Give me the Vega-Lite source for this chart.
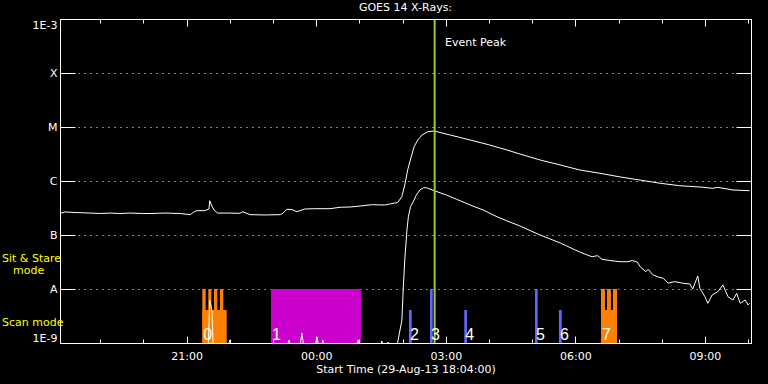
{
  "$schema": "https://vega.github.io/schema/vega-lite/v6.json",
  "width": 691,
  "height": 324,
  "autosize": {"type": "none"},
  "padding": {"left": 60, "top": 19, "right": 17, "bottom": 41},
  "background": "black",
  "config": {
    "view": {"stroke": "white"},
    "axis": {
      "domainColor": "white", "domainWidth": 1,
      "tickColor": "white", "tickWidth": 1,
      "labelColor": "white", "labelFont": "DejaVu Sans", "labelFontSize": 11,
      "titleColor": "white", "titleFont": "DejaVu Sans", "titleFontSize": 11, "titleFontWeight": "normal"
    }
  },
  "title": {"text": "GOES 14 X-Rays:", "color": "white", "font": "DejaVu Sans", "fontSize": 11, "fontWeight": "normal", "anchor": "middle", "offset": 5},
  "datasets": {
    "long": [
      {"t": "2013-08-29T18:04:00Z", "f": 2.52e-7},
      {"t": "2013-08-29T18:11:00Z", "f": 2.67e-7},
      {"t": "2013-08-29T18:25:00Z", "f": 2.61e-7},
      {"t": "2013-08-29T18:46:00Z", "f": 2.55e-7},
      {"t": "2013-08-29T19:00:00Z", "f": 2.50e-7},
      {"t": "2013-08-29T19:13:00Z", "f": 2.55e-7},
      {"t": "2013-08-29T19:27:00Z", "f": 2.50e-7},
      {"t": "2013-08-29T19:41:00Z", "f": 2.55e-7},
      {"t": "2013-08-29T19:59:00Z", "f": 2.50e-7},
      {"t": "2013-08-29T20:09:00Z", "f": 2.50e-7},
      {"t": "2013-08-29T20:30:00Z", "f": 2.55e-7},
      {"t": "2013-08-29T20:51:00Z", "f": 2.50e-7},
      {"t": "2013-08-29T21:05:00Z", "f": 2.38e-7},
      {"t": "2013-08-29T21:10:00Z", "f": 2.67e-7},
      {"t": "2013-08-29T21:14:00Z", "f": 2.82e-7},
      {"t": "2013-08-29T21:25:00Z", "f": 2.82e-7},
      {"t": "2013-08-29T21:31:00Z", "f": 3.03e-7},
      {"t": "2013-08-29T21:32:00Z", "f": 4.32e-7},
      {"t": "2013-08-29T21:35:00Z", "f": 3.44e-7},
      {"t": "2013-08-29T21:38:00Z", "f": 2.90e-7},
      {"t": "2013-08-29T21:43:00Z", "f": 2.55e-7},
      {"t": "2013-08-29T22:00:00Z", "f": 2.55e-7},
      {"t": "2013-08-29T22:14:00Z", "f": 2.52e-7},
      {"t": "2013-08-29T22:18:00Z", "f": 2.70e-7},
      {"t": "2013-08-29T22:28:00Z", "f": 2.38e-7},
      {"t": "2013-08-29T22:49:00Z", "f": 2.35e-7},
      {"t": "2013-08-29T23:10:00Z", "f": 2.38e-7},
      {"t": "2013-08-29T23:14:00Z", "f": 2.55e-7},
      {"t": "2013-08-29T23:19:00Z", "f": 2.99e-7},
      {"t": "2013-08-29T23:26:00Z", "f": 2.97e-7},
      {"t": "2013-08-29T23:33:00Z", "f": 2.70e-7},
      {"t": "2013-08-29T23:44:00Z", "f": 3.03e-7},
      {"t": "2013-08-29T23:58:00Z", "f": 3.07e-7},
      {"t": "2013-08-30T00:19:00Z", "f": 3.07e-7},
      {"t": "2013-08-30T00:33:00Z", "f": 3.26e-7},
      {"t": "2013-08-30T00:47:00Z", "f": 3.30e-7},
      {"t": "2013-08-30T01:01:00Z", "f": 3.44e-7},
      {"t": "2013-08-30T01:17:00Z", "f": 3.64e-7},
      {"t": "2013-08-30T01:35:00Z", "f": 3.59e-7},
      {"t": "2013-08-30T01:42:00Z", "f": 3.75e-7},
      {"t": "2013-08-30T01:49:00Z", "f": 3.91e-7},
      {"t": "2013-08-30T01:53:00Z", "f": 3.96e-7},
      {"t": "2013-08-30T01:59:00Z", "f": 5.16e-7},
      {"t": "2013-08-30T02:03:00Z", "f": 8.43e-7},
      {"t": "2013-08-30T02:07:00Z", "f": 1.60e-6},
      {"t": "2013-08-30T02:12:00Z", "f": 2.82e-6},
      {"t": "2013-08-30T02:16:00Z", "f": 4.32e-6},
      {"t": "2013-08-30T02:21:00Z", "f": 5.74e-6},
      {"t": "2013-08-30T02:27:00Z", "f": 7.11e-6},
      {"t": "2013-08-30T02:35:00Z", "f": 8.18e-6},
      {"t": "2013-08-30T02:44:00Z", "f": 8.43e-6},
      {"t": "2013-08-30T02:52:00Z", "f": 7.91e-6},
      {"t": "2013-08-30T03:06:00Z", "f": 7.11e-6},
      {"t": "2013-08-30T03:34:00Z", "f": 5.74e-6},
      {"t": "2013-08-30T04:01:00Z", "f": 4.64e-6},
      {"t": "2013-08-30T04:25:00Z", "f": 3.75e-6},
      {"t": "2013-08-30T04:43:00Z", "f": 3.16e-6},
      {"t": "2013-08-30T05:11:00Z", "f": 2.45e-6},
      {"t": "2013-08-30T05:39:00Z", "f": 1.98e-6},
      {"t": "2013-08-30T06:06:00Z", "f": 1.60e-6},
      {"t": "2013-08-30T06:34:00Z", "f": 1.39e-6},
      {"t": "2013-08-30T07:02:00Z", "f": 1.19e-6},
      {"t": "2013-08-30T07:30:00Z", "f": 1.04e-6},
      {"t": "2013-08-30T07:58:00Z", "f": 9.07e-7},
      {"t": "2013-08-30T08:25:00Z", "f": 8.18e-7},
      {"t": "2013-08-30T08:53:00Z", "f": 7.74e-7},
      {"t": "2013-08-30T09:11:00Z", "f": 7.32e-7},
      {"t": "2013-08-30T09:18:00Z", "f": 7.64e-7},
      {"t": "2013-08-30T09:39:00Z", "f": 6.81e-7},
      {"t": "2013-08-30T10:02:00Z", "f": 6.61e-7}
    ],
    "short": [
      {"t": "2013-08-29T18:04:00Z", "f": 8e-10},
      {"t": "2013-08-29T21:30:00Z", "f": 8e-10},
      {"t": "2013-08-29T21:32:00Z", "f": 6.26e-9},
      {"t": "2013-08-29T21:35:00Z", "f": 4.08e-9},
      {"t": "2013-08-29T21:37:00Z", "f": 8e-10},
      {"t": "2013-08-29T21:57:00Z", "f": 8e-10},
      {"t": "2013-08-29T22:00:00Z", "f": 1.14e-9},
      {"t": "2013-08-29T22:03:00Z", "f": 8e-10},
      {"t": "2013-08-29T23:19:00Z", "f": 8e-10},
      {"t": "2013-08-29T23:22:00Z", "f": 1.14e-9},
      {"t": "2013-08-29T23:25:00Z", "f": 8e-10},
      {"t": "2013-08-29T23:37:00Z", "f": 8e-10},
      {"t": "2013-08-29T23:40:00Z", "f": 1.53e-9},
      {"t": "2013-08-29T23:43:00Z", "f": 8e-10},
      {"t": "2013-08-29T23:58:00Z", "f": 8e-10},
      {"t": "2013-08-30T00:01:00Z", "f": 1.29e-9},
      {"t": "2013-08-30T00:04:00Z", "f": 8e-10},
      {"t": "2013-08-30T00:07:00Z", "f": 8e-10},
      {"t": "2013-08-30T00:09:00Z", "f": 1.14e-9},
      {"t": "2013-08-30T00:12:00Z", "f": 8e-10},
      {"t": "2013-08-30T00:55:00Z", "f": 8e-10},
      {"t": "2013-08-30T00:58:00Z", "f": 1.14e-9},
      {"t": "2013-08-30T01:01:00Z", "f": 8e-10},
      {"t": "2013-08-30T01:29:00Z", "f": 8e-10},
      {"t": "2013-08-30T01:31:00Z", "f": 1.09e-9},
      {"t": "2013-08-30T01:35:00Z", "f": 8e-10},
      {"t": "2013-08-30T01:40:00Z", "f": 1.04e-9},
      {"t": "2013-08-30T01:44:00Z", "f": 8e-10},
      {"t": "2013-08-30T01:51:00Z", "f": 8e-10},
      {"t": "2013-08-30T01:53:00Z", "f": 1.0e-9},
      {"t": "2013-08-30T01:59:00Z", "f": 2.67e-9},
      {"t": "2013-08-30T02:01:00Z", "f": 1.10e-8},
      {"t": "2013-08-30T02:03:00Z", "f": 3.44e-8},
      {"t": "2013-08-30T02:06:00Z", "f": 1.24e-7},
      {"t": "2013-08-30T02:08:00Z", "f": 2.18e-7},
      {"t": "2013-08-30T02:11:00Z", "f": 3.34e-7},
      {"t": "2013-08-30T02:16:00Z", "f": 4.45e-7},
      {"t": "2013-08-30T02:19:00Z", "f": 5.50e-7},
      {"t": "2013-08-30T02:24:00Z", "f": 6.81e-7},
      {"t": "2013-08-30T02:29:00Z", "f": 7.51e-7},
      {"t": "2013-08-30T02:33:00Z", "f": 7.51e-7},
      {"t": "2013-08-30T02:45:00Z", "f": 6.53e-7},
      {"t": "2013-08-30T03:01:00Z", "f": 5.50e-7},
      {"t": "2013-08-30T03:15:00Z", "f": 4.58e-7},
      {"t": "2013-08-30T03:34:00Z", "f": 3.59e-7},
      {"t": "2013-08-30T03:52:00Z", "f": 2.90e-7},
      {"t": "2013-08-30T04:11:00Z", "f": 2.18e-7},
      {"t": "2013-08-30T04:29:00Z", "f": 1.74e-7},
      {"t": "2013-08-30T04:43:00Z", "f": 1.47e-7},
      {"t": "2013-08-30T05:11:00Z", "f": 1.0e-7},
      {"t": "2013-08-30T05:39:00Z", "f": 7.11e-8},
      {"t": "2013-08-30T05:48:00Z", "f": 6.26e-8},
      {"t": "2013-08-30T06:06:00Z", "f": 4.84e-8},
      {"t": "2013-08-30T06:23:00Z", "f": 3.96e-8},
      {"t": "2013-08-30T06:31:00Z", "f": 4.14e-8},
      {"t": "2013-08-30T06:37:00Z", "f": 3.55e-8},
      {"t": "2013-08-30T06:48:00Z", "f": 3.37e-8},
      {"t": "2013-08-30T07:02:00Z", "f": 3.20e-8},
      {"t": "2013-08-30T07:13:00Z", "f": 3.20e-8},
      {"t": "2013-08-30T07:19:00Z", "f": 3.37e-8},
      {"t": "2013-08-30T07:26:00Z", "f": 3.16e-8},
      {"t": "2013-08-30T07:30:00Z", "f": 2.59e-8},
      {"t": "2013-08-30T07:38:00Z", "f": 2.09e-8},
      {"t": "2013-08-30T07:41:00Z", "f": 2.32e-8},
      {"t": "2013-08-30T07:48:00Z", "f": 1.82e-8},
      {"t": "2013-08-30T07:55:00Z", "f": 1.67e-8},
      {"t": "2013-08-30T08:02:00Z", "f": 1.58e-8},
      {"t": "2013-08-30T08:09:00Z", "f": 1.28e-8},
      {"t": "2013-08-30T08:18:00Z", "f": 1.37e-8},
      {"t": "2013-08-30T08:29:00Z", "f": 1.28e-8},
      {"t": "2013-08-30T08:39:00Z", "f": 1.24e-8},
      {"t": "2013-08-30T08:43:00Z", "f": 1.0e-8},
      {"t": "2013-08-30T08:50:00Z", "f": 1.74e-8},
      {"t": "2013-08-30T08:53:00Z", "f": 1.03e-8},
      {"t": "2013-08-30T09:00:00Z", "f": 7.20e-9},
      {"t": "2013-08-30T09:04:00Z", "f": 5.44e-9},
      {"t": "2013-08-30T09:10:00Z", "f": 7.74e-9},
      {"t": "2013-08-30T09:18:00Z", "f": 8.91e-9},
      {"t": "2013-08-30T09:25:00Z", "f": 1.19e-8},
      {"t": "2013-08-30T09:32:00Z", "f": 7.20e-9},
      {"t": "2013-08-30T09:39:00Z", "f": 6.26e-9},
      {"t": "2013-08-30T09:44:00Z", "f": 8.32e-9},
      {"t": "2013-08-30T09:49:00Z", "f": 5.44e-9},
      {"t": "2013-08-30T09:56:00Z", "f": 6.26e-9},
      {"t": "2013-08-30T10:00:00Z", "f": 5.06e-9},
      {"t": "2013-08-30T10:02:00Z", "f": 5.44e-9}
    ],
    "obs": [
      {"s": "2013-08-29T21:21:42Z", "e": "2013-08-29T21:55:36Z", "top": 4.08e-9, "base": 1e-9, "grp": "multi"},
      {"s": "2013-08-29T21:21:42Z", "e": "2013-08-29T21:26:24Z", "top": 1e-8, "base": 1e-9, "grp": "multi"},
      {"s": "2013-08-29T21:30:00Z", "e": "2013-08-29T21:34:12Z", "top": 1e-8, "base": 1e-9, "grp": "multi"},
      {"s": "2013-08-29T21:37:56Z", "e": "2013-08-29T21:42:32Z", "top": 1e-8, "base": 1e-9, "grp": "multi"},
      {"s": "2013-08-29T21:46:16Z", "e": "2013-08-29T21:50:52Z", "top": 1e-8, "base": 1e-9, "grp": "multi"},
      {"s": "2013-08-29T22:57:06Z", "e": "2013-08-30T01:02:12Z", "top": 1e-8, "base": 1e-9, "grp": "long"},
      {"s": "2013-08-30T02:08:48Z", "e": "2013-08-30T02:12:36Z", "top": 4.08e-9, "base": 1e-9, "grp": "single"},
      {"s": "2013-08-30T02:38:00Z", "e": "2013-08-30T02:41:45Z", "top": 1e-8, "base": 1e-9, "grp": "single"},
      {"s": "2013-08-30T03:25:40Z", "e": "2013-08-30T03:29:24Z", "top": 4.08e-9, "base": 1e-9, "grp": "single"},
      {"s": "2013-08-30T05:03:54Z", "e": "2013-08-30T05:07:36Z", "top": 1e-8, "base": 1e-9, "grp": "single"},
      {"s": "2013-08-30T05:37:12Z", "e": "2013-08-30T05:41:00Z", "top": 4.08e-9, "base": 1e-9, "grp": "single"},
      {"s": "2013-08-30T06:35:36Z", "e": "2013-08-30T06:57:48Z", "top": 4.08e-9, "base": 1e-9, "grp": "multi"},
      {"s": "2013-08-30T06:35:36Z", "e": "2013-08-30T06:41:06Z", "top": 1e-8, "base": 1e-9, "grp": "multi"},
      {"s": "2013-08-30T06:43:54Z", "e": "2013-08-30T06:49:24Z", "top": 1e-8, "base": 1e-9, "grp": "multi"},
      {"s": "2013-08-30T06:52:12Z", "e": "2013-08-30T06:57:48Z", "top": 1e-8, "base": 1e-9, "grp": "multi"}
    ],
    "nums": [
      {"t": "2013-08-29T21:21:42Z", "f": 1.14e-9, "n": "0"},
      {"t": "2013-08-29T22:57:06Z", "f": 1.14e-9, "n": "1"},
      {"t": "2013-08-30T02:08:48Z", "f": 1.14e-9, "n": "2"},
      {"t": "2013-08-30T02:38:00Z", "f": 1.14e-9, "n": "3"},
      {"t": "2013-08-30T03:25:40Z", "f": 1.14e-9, "n": "4"},
      {"t": "2013-08-30T05:03:54Z", "f": 1.14e-9, "n": "5"},
      {"t": "2013-08-30T05:37:12Z", "f": 1.14e-9, "n": "6"},
      {"t": "2013-08-30T06:35:36Z", "f": 1.14e-9, "n": "7"}
    ],
    "modes": [
      {"t": "2013-08-29T16:43:24Z", "f": 3.6e-8, "txt": "Sit & Stare"},
      {"t": "2013-08-29T16:58:42Z", "f": 2.2e-8, "txt": "mode"},
      {"t": "2013-08-29T16:43:24Z", "f": 2.34e-9, "txt": "Scan mode"}
    ],
    "peak": [
      {"t": "2013-08-30T02:44:30Z", "lt": "2013-08-30T02:58:48Z", "f": 3.6e-4, "txt": "Event Peak"}
    ]
  },
  "layer": [
    {
      "data": {"name": "obs"},
      "mark": {"type": "rect"},
      "encoding": {
        "x": {"field": "s", "type": "temporal", "scale": {"type": "utc", "domain": [1377799440000, 1377857040000]}, "axis": null},
        "x2": {"field": "e"},
        "y": {"field": "top", "type": "quantitative", "scale": {"type": "log", "domain": [1e-9, 1e-3], "nice": false}, "axis": null},
        "y2": {"field": "base"},
        "color": {"field": "grp", "type": "nominal", "scale": {"domain": ["multi", "long", "single"], "range": ["#ff8000", "#cc00cc", "#6464ff"]}, "legend": null}
      }
    },
    {
      "data": {"name": "long"},
      "mark": {"type": "line", "color": "white", "strokeWidth": 1, "clip": true},
      "encoding": {
        "x": {"field": "t", "type": "temporal", "scale": {"type": "utc"},
          "axis": {"orient": "bottom", "title": "Start Time (29-Aug-13 18:04:00)", "titlePadding": 2,
            "values": [1377802800000, 1377806400000, 1377810000000, 1377813600000, 1377817200000, 1377820800000, 1377824400000, 1377828000000, 1377831600000, 1377835200000, 1377838800000, 1377842400000, 1377846000000, 1377849600000, 1377853200000, 1377856800000],
            "format": "%H:%M",
            "labelExpr": "round(datum.value / 3600000) % 3 == 0 ? datum.label : ''",
            "tickSize": -7,
            "tickDash": {"condition": {"test": "round(datum.value / 3600000) % 3 == 0", "value": [7, 0]}, "value": [4, 20]},
            "labelPadding": 14, "labelOverlap": false, "grid": false, "zindex": 1, "labelBaseline": "top"}},
        "y": {"field": "f", "type": "quantitative", "scale": {"type": "log"},
          "axis": {"orient": "left", "title": null, "values": [1e-9, 1e-8, 1e-7, 1e-6, 1e-5, 1e-4, 1e-3],
            "labelExpr": "['1E-9','A','B','C','M','X','1E-3'][round(log(datum.value)/LN10)+9]",
            "tickSize": -15, "labelPadding": 18, "labelFlush": true, "labelOverlap": false,
            "grid": true, "gridColor": "white", "gridDash": [1, 5], "gridWidth": 1, "gridOpacity": 1, "zindex": 0}}
      }
    },
    {
      "data": {"name": "short"},
      "mark": {"type": "line", "color": "white", "strokeWidth": 1, "clip": true},
      "encoding": {
        "x": {"field": "t", "type": "temporal", "scale": {"type": "utc"},
          "axis": {"orient": "top", "title": null, "labels": false,
            "values": [1377802800000, 1377806400000, 1377810000000, 1377813600000, 1377817200000, 1377820800000, 1377824400000, 1377828000000, 1377831600000, 1377835200000, 1377838800000, 1377842400000, 1377846000000, 1377849600000, 1377853200000, 1377856800000],
            "tickSize": -7,
            "tickDash": {"condition": {"test": "round(datum.value / 3600000) % 3 == 0", "value": [7, 0]}, "value": [4, 20]},
            "grid": false, "zindex": 1}},
        "y": {"field": "f", "type": "quantitative", "scale": {"type": "log"},
          "axis": {"orient": "right", "title": null, "labels": false, "values": [1e-9, 1e-8, 1e-7, 1e-6, 1e-5, 1e-4, 1e-3],
            "tickSize": -15, "grid": false, "zindex": 1}}
      }
    },
    {
      "data": {"name": "peak"},
      "mark": {"type": "rule", "color": "#9acd32", "strokeWidth": 2},
      "encoding": {
        "x": {"field": "t", "type": "temporal", "scale": {"type": "utc"}, "axis": null}
      }
    },
    {
      "data": {"name": "peak"},
      "mark": {"type": "text", "align": "left", "baseline": "middle", "font": "DejaVu Sans", "fontSize": 11, "color": "white"},
      "encoding": {
        "x": {"field": "lt", "type": "temporal", "scale": {"type": "utc"}, "axis": null},
        "y": {"field": "f", "type": "quantitative", "scale": {"type": "log"}, "axis": null},
        "text": {"field": "txt"}
      }
    },
    {
      "data": {"name": "nums"},
      "mark": {"type": "text", "align": "left", "baseline": "alphabetic", "dx": 1, "font": "Liberation Sans", "fontSize": 16, "color": "white"},
      "encoding": {
        "x": {"field": "t", "type": "temporal", "scale": {"type": "utc"}, "axis": null},
        "y": {"field": "f", "type": "quantitative", "scale": {"type": "log"}, "axis": null},
        "text": {"field": "n"}
      }
    },
    {
      "data": {"name": "modes"},
      "mark": {"type": "text", "align": "left", "baseline": "middle", "font": "DejaVu Sans", "fontSize": 11, "color": "#ffff00"},
      "encoding": {
        "x": {"field": "t", "type": "temporal", "scale": {"type": "utc"}, "axis": null},
        "y": {"field": "f", "type": "quantitative", "scale": {"type": "log"}, "axis": null},
        "text": {"field": "txt"}
      }
    }
  ],
  "resolve": {"axis": {"x": "independent", "y": "independent"}}
}
